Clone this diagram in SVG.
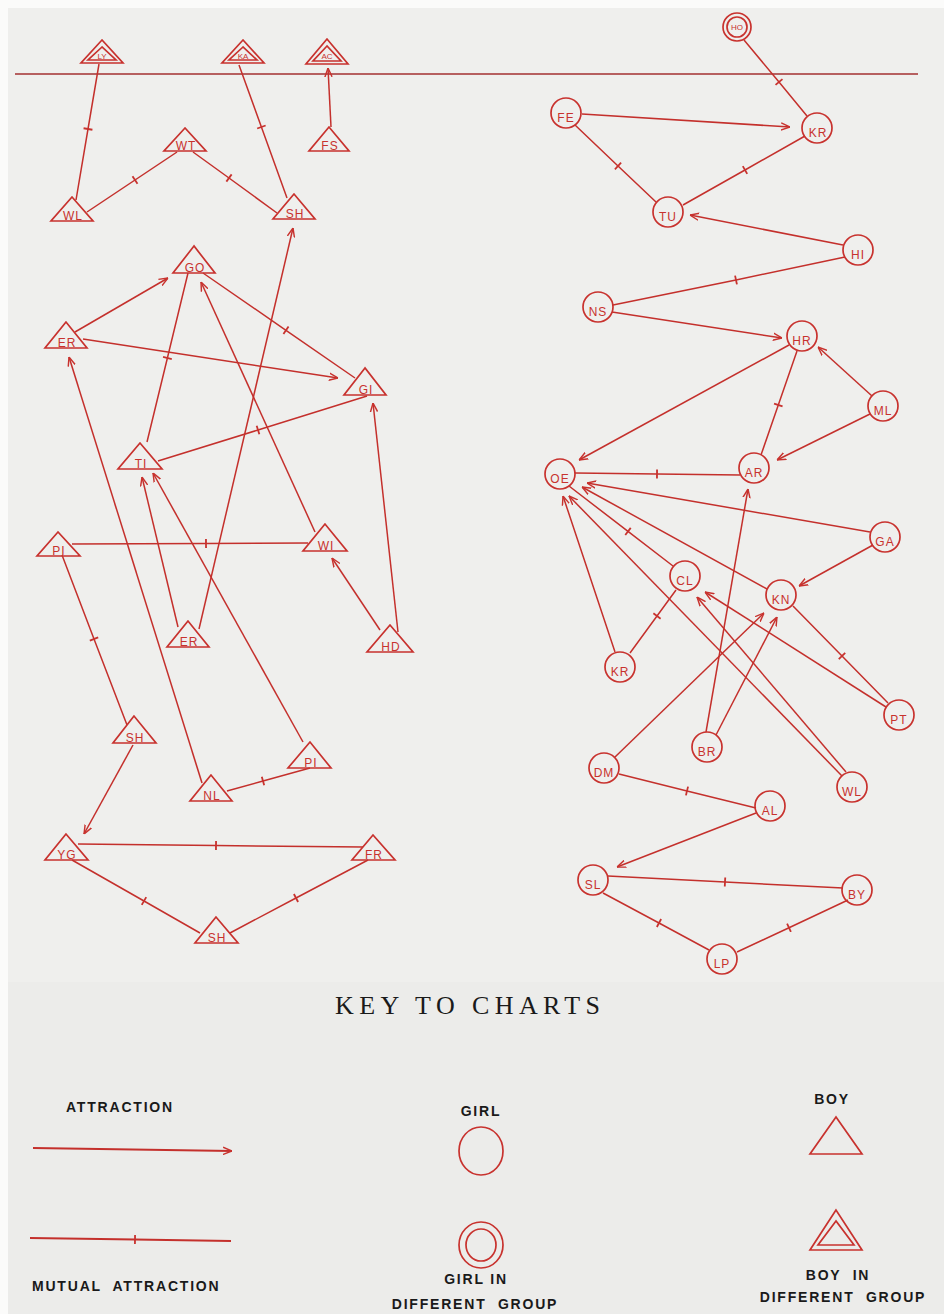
<svg xmlns="http://www.w3.org/2000/svg" width="944" height="1314" viewBox="0 0 944 1314">
<style>
.n{fill:none;stroke:#c8322e;stroke-width:1.7}
.t{font-family:"Liberation Sans",Arial,sans-serif;font-size:12px;fill:#c8322e;text-anchor:middle;letter-spacing:1px}
.e{fill:none;stroke:#c4302c;stroke-width:1.5}
.a{marker-end:url(#arr)}
.m{marker-mid:url(#tick)}
.k{font-family:"Liberation Sans",Arial,sans-serif;font-weight:bold;font-size:14px;fill:#1a1a1a;letter-spacing:1.8px;white-space:pre}
</style>
<defs>
<marker id="arr" viewBox="0 0 10 10" refX="10" refY="5" markerWidth="9" markerHeight="9" orient="auto" markerUnits="userSpaceOnUse"><path d="M0,1 L10,5 L0,9" fill="none" stroke="#c8322e" stroke-width="1.6"/></marker>
<marker id="tick" viewBox="-2 -5 4 10" refX="0" refY="0" markerWidth="4" markerHeight="10" orient="auto" markerUnits="userSpaceOnUse"><path d="M0,-4.5 L0,4.5" stroke="#c8322e" stroke-width="1.8"/></marker>
</defs>
<rect x="0" y="0" width="944" height="1314" fill="#fbfbfa"/>
<rect x="8" y="8" width="936" height="974" fill="#efefed"/>
<rect x="8" y="982" width="936" height="332" fill="#ececea"/>
<line x1="15" y1="74" x2="918" y2="74" stroke="#a33030" stroke-width="1.6"/>

<g id="connectors">
<path class="e m" d="M99,64 L88,129 L76,200"/>
<path class="e m" d="M239,65 L261.4,127 L287,198"/>
<path class="e m" d="M87,212 L135,180 L177,152"/>
<path class="e m" d="M193,152 L229,178 L277,213"/>
<path class="e m" d="M188,273 L167.4,358 L147,442"/>
<path class="e m" d="M203,273 L286,330.3 L355,378"/>
<path class="e m" d="M158,461 L258,430 L367,396"/>
<path class="e m" d="M72,544 L206,543.5 L308,543"/>
<path class="e m" d="M62,555 L94,639 L127,725"/>
<path class="e m" d="M227,791 L263,781 L310,768"/>
<path class="e m" d="M78,844 L216,845.5 L363,847"/>
<path class="e m" d="M72,860 L144,901 L200,933"/>
<path class="e m" d="M368,860 L296,898 L230,933"/>
<path class="e m" d="M744,40 L779,82 L807,116"/>
<path class="e m" d="M575,125 L618,166 L656,202"/>
<path class="e m" d="M683,205 L745,170 L805,136"/>
<path class="e m" d="M845,257 L736,280 L613,305"/>
<path class="e m" d="M797,351 L778.3,405 L761,455"/>
<path class="e m" d="M575,473 L657,474 L740,475"/>
<path class="e m" d="M569,486 L628,531.4 L673,566"/>
<path class="e m" d="M676,590 L657,616 L630,653"/>
<path class="e m" d="M793,606 L842,656 L888,703"/>
<path class="e m" d="M619,774 L687,791 L756,808"/>
<path class="e m" d="M608,876 L725,882 L843,888"/>
<path class="e m" d="M603,893 L659,923 L709,950"/>
<path class="e m" d="M737,952 L789,927.7 L848,900"/>

<path class="e a" d="M331,127 L328,68"/>
<path class="e a" d="M75,332 L168,278"/>
<path class="e a" d="M83,339 L338,378"/>
<path class="e a" d="M315,532 L201,282"/>
<path class="e a" d="M199,629 L293,228"/>
<path class="e a" d="M178,627 L142,477"/>
<path class="e a" d="M303,742 L153,473"/>
<path class="e a" d="M202,783 L69,357"/>
<path class="e a" d="M380,630 L332,558"/>
<path class="e a" d="M398,632 L373,403"/>
<path class="e a" d="M133,745 L84,834"/>

<path class="e a" d="M582,114 L790,127"/>
<path class="e a" d="M843,245 L690,215"/>
<path class="e a" d="M612,312 L782,338"/>
<path class="e a" d="M789,345 L579,460"/>
<path class="e a" d="M872,396 L818,347"/>
<path class="e a" d="M870,414 L777,460"/>
<path class="e a" d="M870,532 L587,483"/>
<path class="e a" d="M873,545 L799,586"/>
<path class="e a" d="M767,589 L582,487"/>
<path class="e a" d="M615,652 L563,496"/>
<path class="e a" d="M842,776 L569,496"/>
<path class="e a" d="M846,772 L697,597"/>
<path class="e a" d="M886,707 L705,592"/>
<path class="e a" d="M706,732 L748,489"/>
<path class="e a" d="M716,735 L777,617"/>
<path class="e a" d="M615,757 L764,613"/>
<path class="e a" d="M756,813 L617,867"/>
</g>

<g id="n-ly"><polygon class="n" points="102,40 81,63 123,63"/><polygon class="n" points="102,47 88,60 116,60"/><text class="t" x="102" y="59" style="font-size:8px;letter-spacing:0">LY</text></g>
<g id="n-ka"><polygon class="n" points="243,40 222,63 264,63"/><polygon class="n" points="243,47 229,60 257,60"/><text class="t" x="243" y="59" style="font-size:8px;letter-spacing:0">KA</text></g>
<g id="n-ac"><polygon class="n" points="327,39 306,64 348,64"/><polygon class="n" points="327,46 313,61 341,61"/><text class="t" x="327" y="59" style="font-size:8px;letter-spacing:0">AC</text></g>
<g id="n-wl"><polygon class="n" points="72,197 51,221 93,221"/><text class="t" x="73" y="220">WL</text></g>
<g id="n-wt"><polygon class="n" points="185,128 164,151 206,151"/><text class="t" x="186" y="150">WT</text></g>
<g id="n-sh1"><polygon class="n" points="294,194 273,219 315,219"/><text class="t" x="295" y="218">SH</text></g>
<g id="n-fs"><polygon class="n" points="329,127 309,151 349,151"/><text class="t" x="330" y="150">FS</text></g>
<g id="n-go"><polygon class="n" points="194,246 173,273 215,273"/><text class="t" x="195" y="272">GO</text></g>
<g id="n-er1"><polygon class="n" points="66,322 45,348 87,348"/><text class="t" x="67" y="347">ER</text></g>
<g id="n-gi"><polygon class="n" points="365,368 344,395 386,395"/><text class="t" x="366" y="394">GI</text></g>
<g id="n-ti"><polygon class="n" points="140,443 118,469 162,469"/><text class="t" x="141" y="468">TI</text></g>
<g id="n-wi"><polygon class="n" points="325,524 303,551 347,551"/><text class="t" x="326" y="550">WI</text></g>
<g id="n-pi1"><polygon class="n" points="58,532 37,556 80,556"/><text class="t" x="59" y="555">PI</text></g>
<g id="n-er2"><polygon class="n" points="188,621 167,647 209,647"/><text class="t" x="189" y="646">ER</text></g>
<g id="n-hd"><polygon class="n" points="390,625 367,652 413,652"/><text class="t" x="391" y="651">HD</text></g>
<g id="n-sh2"><polygon class="n" points="134,716 113,743 156,743"/><text class="t" x="135" y="742">SH</text></g>
<g id="n-pi2"><polygon class="n" points="310,742 288,768 331,768"/><text class="t" x="311" y="767">PI</text></g>
<g id="n-nl"><polygon class="n" points="211,775 190,801 232,801"/><text class="t" x="212" y="800">NL</text></g>
<g id="n-yg"><polygon class="n" points="66,834 45,860 88,860"/><text class="t" x="67" y="859">YG</text></g>
<g id="n-fr"><polygon class="n" points="373,835 352,860 395,860"/><text class="t" x="374" y="859">FR</text></g>
<g id="n-sh3"><polygon class="n" points="216,917 195,943 238,943"/><text class="t" x="217" y="942">SH</text></g>

<g id="n-ho"><circle class="n" cx="737" cy="27" r="14"/><circle class="n" cx="737" cy="27" r="10"/><text class="t" x="737" y="30" style="font-size:8px;letter-spacing:0">HO</text></g>
<g id="n-fe"><circle class="n" cx="566" cy="113" r="15"/><text class="t" x="566" y="122">FE</text></g>
<g id="n-kr1"><circle class="n" cx="817" cy="128" r="15"/><text class="t" x="818" y="137">KR</text></g>
<g id="n-tu"><circle class="n" cx="668" cy="212" r="15"/><text class="t" x="668" y="221">TU</text></g>
<g id="n-hi"><circle class="n" cx="858" cy="250" r="15"/><text class="t" x="858" y="259">HI</text></g>
<g id="n-ns"><circle class="n" cx="598" cy="307" r="15"/><text class="t" x="598" y="316">NS</text></g>
<g id="n-hr"><circle class="n" cx="802" cy="336" r="15"/><text class="t" x="802" y="345">HR</text></g>
<g id="n-ml"><circle class="n" cx="883" cy="406" r="15"/><text class="t" x="883" y="415">ML</text></g>
<g id="n-ar"><circle class="n" cx="754" cy="468" r="15"/><text class="t" x="754" y="477">AR</text></g>
<g id="n-oe"><circle class="n" cx="560" cy="474" r="15"/><text class="t" x="560" y="483">OE</text></g>
<g id="n-ga"><circle class="n" cx="885" cy="537" r="15"/><text class="t" x="885" y="546">GA</text></g>
<g id="n-cl"><circle class="n" cx="685" cy="576" r="15"/><text class="t" x="685" y="585">CL</text></g>
<g id="n-kn"><circle class="n" cx="781" cy="595" r="15"/><text class="t" x="781" y="604">KN</text></g>
<g id="n-kr2"><circle class="n" cx="620" cy="667" r="15"/><text class="t" x="620" y="676">KR</text></g>
<g id="n-pt"><circle class="n" cx="899" cy="715" r="15"/><text class="t" x="899" y="724">PT</text></g>
<g id="n-br"><circle class="n" cx="707" cy="747" r="15"/><text class="t" x="707" y="756">BR</text></g>
<g id="n-dm"><circle class="n" cx="604" cy="768" r="15"/><text class="t" x="604" y="777">DM</text></g>
<g id="n-wl2"><circle class="n" cx="852" cy="787" r="15"/><text class="t" x="852" y="796">WL</text></g>
<g id="n-al"><circle class="n" cx="770" cy="806" r="15"/><text class="t" x="770" y="815">AL</text></g>
<g id="n-sl"><circle class="n" cx="593" cy="880" r="15"/><text class="t" x="593" y="889">SL</text></g>
<g id="n-by"><circle class="n" cx="857" cy="890" r="15"/><text class="t" x="857" y="899">BY</text></g>
<g id="n-lp"><circle class="n" cx="722" cy="959" r="15"/><text class="t" x="722" y="968">LP</text></g>

<g id="key">
<text x="335" y="1014" font-family="Liberation Serif,Times New Roman,serif" font-size="26" fill="#1a1a1a" textLength="265" lengthAdjust="spacing">KEY TO CHARTS</text>
<text class="k" x="66" y="1112">ATTRACTION</text>
<path class="e a" d="M33,1148 L232,1151" style="stroke-width:2"/>
<path class="e m" d="M30,1238 L135,1239.5 L231,1241" style="stroke-width:2"/>
<text class="k" x="32" y="1291">MUTUAL  ATTRACTION</text>
<text class="k" x="481" y="1116" text-anchor="middle">GIRL</text>
<ellipse class="n" cx="481" cy="1151" rx="22" ry="24"/>
<ellipse class="n" cx="481" cy="1245" rx="22" ry="23"/>
<ellipse class="n" cx="481" cy="1245" rx="15" ry="16"/>
<text class="k" x="476" y="1284" text-anchor="middle">GIRL IN</text>
<text class="k" x="475" y="1309" text-anchor="middle">DIFFERENT  GROUP</text>
<text class="k" x="832" y="1104" text-anchor="middle">BOY</text>
<polygon class="n" points="836,1117 810,1154 862,1154"/>
<polygon class="n" points="836,1210 810,1250 862,1250"/>
<polygon class="n" points="836,1221 818,1245 854,1245"/>
<text class="k" x="838" y="1280" text-anchor="middle">BOY  IN</text>
<text class="k" x="843" y="1302" text-anchor="middle">DIFFERENT  GROUP</text>
</g>
</svg>
